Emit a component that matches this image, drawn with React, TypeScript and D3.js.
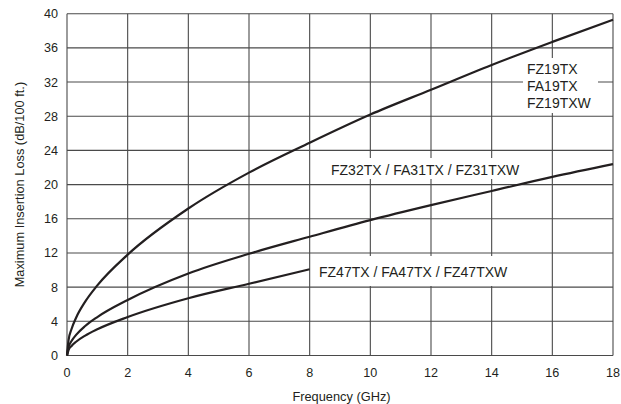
import React from "react";
import * as d3 from "d3";

const freqTicks = [0, 2, 4, 6, 8, 10, 12, 14, 16, 18];
const lossTicks = [0, 4, 8, 12, 16, 20, 24, 28, 32, 36, 40];

const freqs = [0, 0.05, 0.15, 0.3, 0.6, 1, 2, 4, 6, 8, 10, 12, 14, 16, 18];
const lossFZ19 = [0, 1.78, 3.1, 4.42, 6.3, 8.2, 11.8, 17.2, 21.4, 24.9, 28.2, 31.1, 34.0, 36.7, 39.3];
const lossFZ32 = [0, 0.97, 1.69, 2.41, 3.45, 4.5, 6.5, 9.6, 11.9, 13.9, 15.85, 17.6, 19.25, 20.9, 22.4];
const freqsFZ47 = [0, 0.05, 0.15, 0.3, 0.6, 1, 2, 4, 6, 8];
const lossFZ47 = [0, 0.64, 1.12, 1.61, 2.33, 3.07, 4.5, 6.7, 8.4, 10.1];

const labelFZ19 = ["FZ19TX", "FA19TX", "FZ19TXW"];
const labelFZ32 = "FZ32TX / FA31TX / FZ31TXW";
const labelFZ47 = "FZ47TX / FA47TX / FZ47TXW";

const W = 621;
const H = 404;
const left = 67;
const right = 613;
const top = 13.7;
const bottom = 355.5;

export default function App() {
  const x = d3.scaleLinear().domain([0, 18]).range([left, right]);
  const y = d3.scaleLinear().domain([0, 40]).range([bottom, top]);

  const line = d3
    .line<[number, number]>()
    .x((d) => x(d[0]))
    .y((d) => y(d[1]))
    .curve(d3.curveMonotoneX);

  const s19 = freqs.map((f, i) => [f, lossFZ19[i]] as [number, number]);
  const s32 = freqs.map((f, i) => [f, lossFZ32[i]] as [number, number]);
  const s47 = freqsFZ47.map((f, i) => [f, lossFZ47[i]] as [number, number]);

  const font = "'Liberation Sans', Arial, Helvetica, sans-serif";
  const gridColor = "#4a4a4a";
  const ink = "#231f20";

  return (
    <svg
      width={W}
      height={H}
      style={{ position: "absolute", left: 0, top: 0 }}
      fontFamily={font}
    >
      <rect x={0} y={0} width={W} height={H} fill="#fff" />
      {/* grid */}
      {freqTicks.map((t) => (
        <line
          key={"vx" + t}
          x1={x(t)}
          x2={x(t)}
          y1={top}
          y2={bottom}
          stroke={gridColor}
          strokeWidth={1.1}
        />
      ))}
      {lossTicks.map((t) => (
        <line
          key={"hy" + t}
          x1={left}
          x2={right}
          y1={y(t)}
          y2={y(t)}
          stroke={gridColor}
          strokeWidth={1.1}
        />
      ))}
      {/* label backgrounds */}
      <rect x={523} y={58} width={75} height={55} fill="#fff" />
      <rect x={325} y={158} width={197} height={21} fill="#fff" />
      <rect x={313} y={256} width={199} height={30} fill="#fff" />
      {/* curves */}
      <path d={line(s19) || ""} fill="none" stroke={ink} strokeWidth={2.2} />
      <path d={line(s32) || ""} fill="none" stroke={ink} strokeWidth={2.2} />
      <path d={line(s47) || ""} fill="none" stroke={ink} strokeWidth={2.2} />
      {/* labels */}
      {labelFZ19.map((l, i) => (
        <text key={l} x={527} y={74 + i * 17} fontSize={14} fill={ink}>
          {l}
        </text>
      ))}
      <text x={331} y={174.5} fontSize={14} fill={ink}>
        {labelFZ32}
      </text>
      <text x={319} y={276.5} fontSize={14} fill={ink}>
        {labelFZ47}
      </text>
      {/* tick labels */}
      {lossTicks.map((t) => (
        <text
          key={"yl" + t}
          x={58}
          y={y(t) + 4.5}
          fontSize={12.6}
          textAnchor="end"
          fill={ink}
        >
          {t}
        </text>
      ))}
      {freqTicks.map((t) => (
        <text
          key={"xl" + t}
          x={x(t)}
          y={377}
          fontSize={12.6}
          textAnchor="middle"
          fill={ink}
        >
          {t}
        </text>
      ))}
      <text x={341.5} y={401} fontSize={12.8} textAnchor="middle" fill={ink}>
        Frequency (GHz)
      </text>
      <text
        transform={`translate(23.5, ${(top + bottom) / 2}) rotate(-90)`}
        fontSize={12.8}
        textAnchor="middle"
        fill={ink}
      >
        Maximum Insertion Loss (dB/100 ft.)
      </text>
    </svg>
  );
}
